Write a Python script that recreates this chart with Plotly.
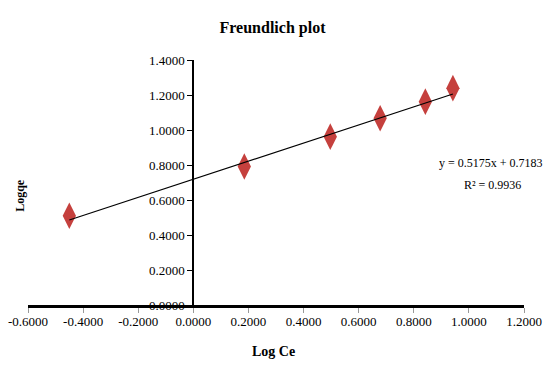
import plotly.graph_objects as go

# Data
log_ce = [-0.450, 0.185, 0.497, 0.678, 0.842, 0.942]
log_qe = [0.510, 0.791, 0.962, 1.067, 1.162, 1.239]
slope = 0.5175
intercept = 0.7183
r2 = 0.9936
x_ticks = [-0.6, -0.4, -0.2, 0.0, 0.2, 0.4, 0.6, 0.8, 1.0, 1.2]
y_ticks = [0.0, 0.2, 0.4, 0.6, 0.8, 1.0, 1.2, 1.4]

FONT = "Liberation Serif"

W, H = 545, 367
L, T = 28, 60
PW, PH = 495.6, 245.3
R, B = W - L - PW, H - T - PH

trend_x = [min(log_ce), max(log_ce)]
trend_y = [slope * v + intercept for v in trend_x]

fig = go.Figure()
fig.add_trace(go.Scatter(
    x=log_ce, y=log_qe, mode="markers",
    marker=dict(symbol="diamond-tall", size=19, color="#C5403D",
                line=dict(width=0)),
    showlegend=False, hoverinfo="x+y"))
fig.add_trace(go.Scatter(
    x=trend_x, y=trend_y, mode="lines",
    line=dict(color="black", width=1.2),
    showlegend=False, hoverinfo="skip"))

fig.update_layout(
    width=W, height=H,
    margin=dict(l=L, r=R, t=T, b=B, pad=0, autoexpand=False),
    paper_bgcolor="white", plot_bgcolor="white",
    font=dict(family=FONT, color="black", size=13),
    title=dict(text="<b>Freundlich plot</b>", x=272.5 / W, xref="container",
               y=1 - 27 / H, yref="container", yanchor="middle",
               xanchor="center", font=dict(family=FONT, size=16, color="black")),
    xaxis=dict(range=[-0.6, 1.2], tickvals=x_ticks,
               ticktext=[f"{v:.4f}" for v in x_ticks],
               showgrid=False, zeroline=False, automargin=False,
               ticklabeloverflow="allow", ticklabelstandoff=-3,
               showline=True, linecolor="black", linewidth=3,
               ticks="outside", ticklen=5, tickcolor="#999999", tickwidth=1,
               tickfont=dict(family=FONT, size=13, color="black")),
    yaxis=dict(range=[0, 1.4], tickvals=y_ticks,
               ticktext=[f"{v:.4f}" for v in y_ticks],
               showgrid=False, zeroline=False, automargin=False,
               ticklabeloverflow="allow",
               anchor="free", position=(0 - (-0.6)) / 1.8,
               showline=True, linecolor="black", linewidth=2,
               ticks="outside", ticklen=5, tickcolor="black", tickwidth=1,
               tickfont=dict(family=FONT, size=13, color="black")),
)

def px_x(x):  # window pixel -> paper fraction
    return (x - L) / PW

def px_y(y):
    return (T + PH - y) / PH

fig.add_annotation(text="<b>Log Ce</b>", xref="paper", yref="paper",
                   x=px_x(273), y=px_y(352), showarrow=False,
                   xanchor="center", yanchor="middle",
                   font=dict(family=FONT, size=14, color="black"))
fig.add_annotation(text="<b>Logqe</b>", xref="paper", yref="paper",
                   x=px_x(20), y=px_y(195), showarrow=False,
                   textangle=-90, xanchor="center", yanchor="middle",
                   font=dict(family=FONT, size=12, color="black"))
fig.add_annotation(text=f"y = {slope:.4f}x + {intercept:.4f}",
                   xref="paper", yref="paper",
                   x=px_x(491), y=px_y(163), showarrow=False,
                   xanchor="center", yanchor="middle",
                   font=dict(family=FONT, size=12, color="black"))
fig.add_annotation(text=f"R² = {r2:.4f}",
                   xref="paper", yref="paper",
                   x=px_x(492), y=px_y(185), showarrow=False,
                   xanchor="center", yanchor="middle",
                   font=dict(family=FONT, size=12, color="black"))

fig.write_html("out.html",
               config={"displayModeBar": False},
               post_script="document.body.style.margin='0';"
                           "document.body.style.overflow='hidden';")
